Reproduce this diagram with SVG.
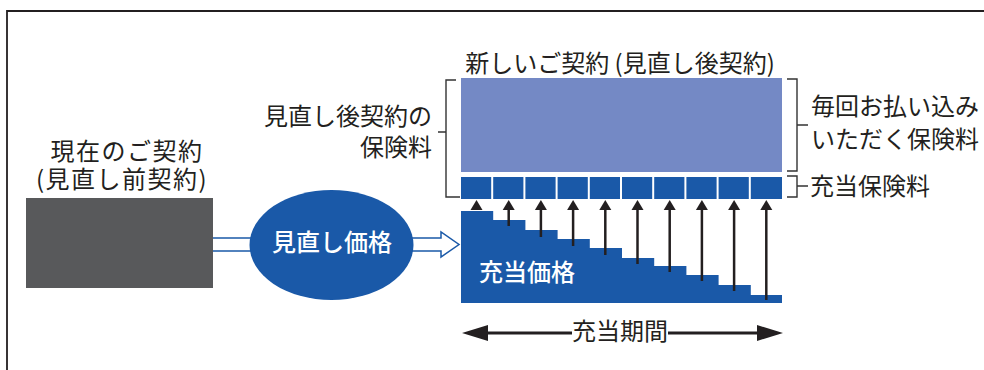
<svg xmlns="http://www.w3.org/2000/svg" width="984" height="370" viewBox="0 0 984 370">
<defs>
<style>
.t{font-family:"Noto Sans CJK JP","Noto Sans",sans-serif;font-size:24px;fill:#231f20}
.w{font-family:"Noto Sans CJK JP","Noto Sans",sans-serif;font-size:24px;fill:#ffffff;font-weight:500}
.br{fill:none;stroke:#333333;stroke-width:1.4}
.sh{stroke:#231f20;stroke-width:2.5}
.hd{fill:#231f20}
.box{fill:#1a59a8}
</style>
</defs>
<rect width="984" height="370" fill="#ffffff"/>
<path d="M7,370 V11 H984" fill="none" stroke="#231f20" stroke-width="1.8"/>

<g id="current">
<rect x="26" y="198" width="187" height="90" fill="#58595b"/>
<text class="t" x="127" y="160" text-anchor="middle" letter-spacing="1.5">現在のご契約</text>
<text class="t" x="122" y="188" text-anchor="middle" letter-spacing="1.5">(見直し前契約)</text>
</g>

<g id="connectors">
<path d="M213,238 H441 V232 L459,244.5 L441,257 V251 H213" fill="#ffffff" stroke="#1a59a8" stroke-width="1.5"/>
<line x1="470" y1="333" x2="572" y2="333" stroke="#231f20" stroke-width="3"/>
<line x1="668" y1="333" x2="775" y2="333" stroke="#231f20" stroke-width="3"/>
<path d="M462,333 L488,325 L488,341 Z" fill="#231f20"/>
<path d="M783,333 L757,325 L757,341 Z" fill="#231f20"/>
</g>

<g id="revise">
<ellipse cx="331.5" cy="245" rx="82" ry="55" fill="#1a59a8"/>
<text class="w" x="332" y="251" text-anchor="middle">見直し価格</text>
</g>

<g id="new-contract">
<text class="t" x="620" y="72" text-anchor="middle">新しいご契約 (見直し後契約)</text>
<rect x="461" y="78" width="321" height="94" fill="#7489c5"/>
</g>

<g id="premium-boxes">
<rect class="box" x="461" y="177" width="30.2" height="22"/>
<rect class="box" x="493.2" y="177" width="30.2" height="22"/>
<rect class="box" x="525.4" y="177" width="30.2" height="22"/>
<rect class="box" x="557.6" y="177" width="30.2" height="22"/>
<rect class="box" x="589.8" y="177" width="30.2" height="22"/>
<rect class="box" x="622" y="177" width="30.2" height="22"/>
<rect class="box" x="654.2" y="177" width="30.2" height="22"/>
<rect class="box" x="686.4" y="177" width="30.2" height="22"/>
<rect class="box" x="718.6" y="177" width="30.2" height="22"/>
<rect class="box" x="750.8" y="177" width="31.2" height="22"/>
</g>

<g id="allocation-price">
<path d="M461,211 H493.2 V220 H525.4 V230 H557.6 V239 H589.8 V248 H622 V258 H654.2 V266 H686.4 V275 H718.6 V285 H750.8 V295 H782 V303 H461 Z" fill="#1a59a8"/>
<text class="w" x="479" y="281" font-size="23.5">充当価格</text>
</g>

<g id="arrows">
<path class="hd" d="M470.5,210 L476.5,200 L482.5,210 Z"/>
<line class="sh" x1="508.7" y1="226" x2="508.7" y2="208"/><path class="hd" d="M502.7,210 L508.7,200 L514.7,210 Z"/>
<line class="sh" x1="540.9" y1="237" x2="540.9" y2="208"/><path class="hd" d="M534.9,210 L540.9,200 L546.9,210 Z"/>
<line class="sh" x1="573.1" y1="246" x2="573.1" y2="208"/><path class="hd" d="M567.1,210 L573.1,200 L579.1,210 Z"/>
<line class="sh" x1="605.3" y1="255" x2="605.3" y2="208"/><path class="hd" d="M599.3,210 L605.3,200 L611.3,210 Z"/>
<line class="sh" x1="637.5" y1="264" x2="637.5" y2="208"/><path class="hd" d="M631.5,210 L637.5,200 L643.5,210 Z"/>
<line class="sh" x1="669.7" y1="272" x2="669.7" y2="208"/><path class="hd" d="M663.7,210 L669.7,200 L675.7,210 Z"/>
<line class="sh" x1="701.9" y1="281" x2="701.9" y2="208"/><path class="hd" d="M695.9,210 L701.9,200 L707.9,210 Z"/>
<line class="sh" x1="734.1" y1="291" x2="734.1" y2="208"/><path class="hd" d="M728.1,210 L734.1,200 L740.1,210 Z"/>
<line class="sh" x1="766.3" y1="300" x2="766.3" y2="208"/><path class="hd" d="M760.3,210 L766.3,200 L772.3,210 Z"/>
</g>

<g id="label-left">
<path class="br" d="M456,80 H446 V197 H460 M446,132 H438"/>
<text class="t" x="432" y="125" text-anchor="end">見直し後契約の</text>
<text class="t" x="432" y="156" text-anchor="end">保険料</text>
</g>

<g id="label-right">
<path class="br" d="M787,79 H797 V171 H787 M797,125 H808"/>
<path class="br" d="M787,176 H797 V197 H787 M797,186 H808"/>
<text class="t" x="811" y="115">毎回お払い込み</text>
<text class="t" x="811" y="148">いただく保険料</text>
<text class="t" x="810" y="195">充当保険料</text>
</g>

<g id="period">
<text class="t" x="620" y="340" text-anchor="middle" font-size="22">充当期間</text>
</g>
</svg>
